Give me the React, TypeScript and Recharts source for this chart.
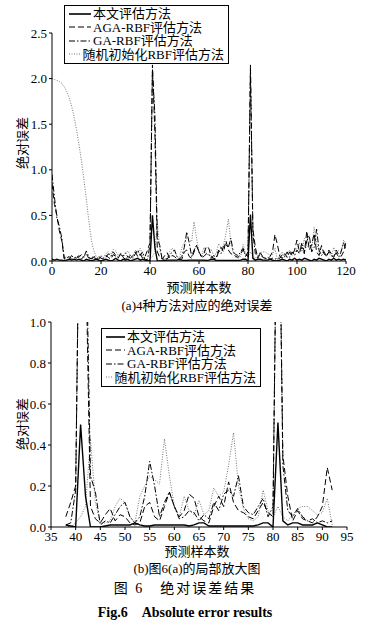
import React from 'react';
import { LineChart, Line, XAxis, YAxis } from 'recharts';

const FONT = '"Liberation Serif", "Noto Sans CJK SC", serif';

// sample numbers 0..120
const samples = Array.from({ length: 121 }, (_, i) => i);

// 本文评估方法
const ours = [
  0.02, 0.01, 0.02, 0.01, 0.01, 0.0, 0.01, 0.02, 0.01, 0.02,
  0.01, 0.02, 0.01, 0.0, 0.02, 0.01, 0.0, 0.01, 0.02, 0.01,
  0.0, 0.01, 0.02, 0.01, 0.0, 0.01, 0.03, 0.01, 0.0, 0.02,
  0.01, 0.02, 0.0, 0.01, 0.02, 0.03, 0.01, 0.02, 0.01, 0.005,
  0.0, 0.5, 0.15, 0.0, 0.0, 0.0, 0.005, 0.01, 0.01, 0.01,
  0.01, 0.01, 0.02, 0.01, 0.005, 0.005, 0.01, 0.01, 0.01, 0.01,
  0.01, 0.01, 0.01, 0.005, 0.01, 0.02, 0.02, 0.005, 0.005, 0.005,
  0.005, 0.005, 0.005, 0.005, 0.005, 0.005, 0.005, 0.01, 0.02, 0.02,
  0.0, 0.51, 0.03, 0.01, 0.02, 0.02, 0.01, 0.01, 0.01, 0.02,
  0.01, 0.0, 0.0, 0.01, 0.02, 0.01, 0.0, 0.02, 0.01, 0.03,
  0.01, 0.02, 0.01, 0.03, 0.02, 0.01, 0.0, 0.02, 0.01, 0.03,
  0.02, 0.01, 0.0, 0.02, 0.01, 0.03, 0.01, 0.02, 0.01, 0.02,
  0.01,
];

// AGA-RBF评估方法
const aga = [
  0.85, 0.62, 0.5, 0.33, 0.22, 0.02, 0.03, 0.05, 0.02, 0.04,
  0.03, 0.06, 0.02, 0.05, 0.08, 0.03, 0.01, 0.04, 0.02, 0.05,
  0.03, 0.02, 0.06, 0.04, 0.02, 0.07, 0.05, 0.03, 0.08, 0.04,
  0.02, 0.05, 0.03, 0.06, 0.1, 0.05, 0.08, 0.03, 0.05, 0.12,
  0.2, 2.15, 1.4, 0.1, 0.04, 0.02, 0.06, 0.09, 0.03, 0.06,
  0.05, 0.02, 0.01, 0.02, 0.1, 0.12, 0.05, 0.03, 0.1, 0.17,
  0.1, 0.05, 0.08, 0.16, 0.14, 0.05, 0.03, 0.02, 0.1, 0.15,
  0.1, 0.22, 0.12, 0.08, 0.07, 0.05, 0.04, 0.08, 0.12, 0.07,
  0.05, 2.15, 0.35, 0.15, 0.03, 0.08, 0.04, 0.03, 0.02, 0.05,
  0.1, 0.29, 0.18, 0.05, 0.03, 0.08, 0.04, 0.1, 0.06, 0.12,
  0.23, 0.1, 0.15, 0.08, 0.33, 0.12, 0.18, 0.3, 0.1, 0.06,
  0.17, 0.08, 0.05, 0.1, 0.06, 0.04, 0.12, 0.07, 0.05, 0.1,
  0.2,
];

// GA-RBF评估方法
const ga = [
  0.95, 0.7, 0.47, 0.38, 0.25, 0.03, 0.05, 0.02, 0.06, 0.03,
  0.05, 0.04, 0.07, 0.04, 0.11, 0.05, 0.02, 0.06, 0.03, 0.02,
  0.05, 0.03, 0.04, 0.08, 0.05, 0.1, 0.06, 0.04, 0.07, 0.05,
  0.09, 0.04, 0.06, 0.03, 0.08, 0.12, 0.06, 0.1, 0.01, 0.02,
  0.18, 2.1, 1.6, 0.25, 0.17, 0.01, 0.03, 0.02, 0.06, 0.1,
  0.12, 0.05, 0.02, 0.05, 0.15, 0.32, 0.2, 0.05, 0.12, 0.17,
  0.1, 0.04, 0.05, 0.08, 0.07, 0.03, 0.06, 0.04, 0.12, 0.08,
  0.16, 0.18, 0.15, 0.25, 0.1, 0.07, 0.06, 0.1, 0.14, 0.05,
  0.1, 2.1, 0.3, 0.08, 0.05, 0.09, 0.05, 0.03, 0.04, 0.02,
  0.03, 0.02, 0.03, 0.03, 0.07, 0.05, 0.1, 0.04, 0.1, 0.06,
  0.12, 0.08, 0.2, 0.1, 0.22, 0.28, 0.1, 0.15, 0.35, 0.12,
  0.06, 0.1, 0.05, 0.12, 0.08, 0.05, 0.09, 0.04, 0.1, 0.2,
  0.12,
];

// 随机初始化RBF评估方法
const rnd = [
  2.0, 1.99, 1.98, 1.97, 1.95, 1.91, 1.86, 1.79, 1.7, 1.58,
  1.44, 1.28, 1.1, 0.9, 0.68, 0.45, 0.24, 0.12, 0.05, 0.03,
  0.06, 0.04, 0.08, 0.1, 0.07, 0.13, 0.11, 0.06, 0.09, 0.05,
  0.08, 0.11, 0.06, 0.04, 0.12, 0.08, 0.14, 0.06, 0.01, 0.0,
  0.02, 0.05, 0.1, 0.43, 0.12, 0.02, 0.02, 0.03, 0.1, 0.14,
  0.12, 0.05, 0.02, 0.15, 0.2, 0.25, 0.23, 0.21, 0.43, 0.25,
  0.1, 0.05, 0.15, 0.08, 0.06, 0.13, 0.06, 0.08, 0.19, 0.15,
  0.17, 0.3, 0.46, 0.2, 0.09, 0.04, 0.03, 0.05, 0.18, 0.08,
  0.05, 0.1, 0.05, 0.03, 0.06, 0.09, 0.1, 0.1, 0.08, 0.06,
  0.07, 0.14, 0.01, 0.06, 0.1, 0.04, 0.08, 0.12, 0.06, 0.09,
  0.14, 0.2, 0.1, 0.25, 0.15, 0.2, 0.12, 0.37, 0.2, 0.1,
  0.08, 0.12, 0.06, 0.09, 0.05, 0.15, 0.08, 0.12, 0.1, 0.23,
  0.18,
];

const xTicksA = [0, 20, 40, 60, 80, 100, 120];
const yTicksA = [0, 0.5, 1.0, 1.5, 2.0, 2.5];
const xTicksB = [35, 40, 45, 50, 55, 60, 65, 70, 75, 80, 85, 90, 95];
const yTicksB = [0, 0.1, 0.2, 0.3, 0.4, 0.5, 0.6, 0.7, 0.8, 0.9, 1.0];
const zoomRange = [38, 92];

const seriesNames = ['本文评估方法', 'AGA-RBF评估方法', 'GA-RBF评估方法', '随机初始化RBF评估方法'];

const rows = samples.map((x, i) => ({ x, ours: ours[i], aga: aga[i], ga: ga[i], rnd: rnd[i] }));
const zoomRows = rows.filter((r) => r.x >= zoomRange[0] && r.x <= zoomRange[1]);

const lineStyles = [
  { key: 'rnd', stroke: '#777', width: 1, dash: '1 1.5' },
  { key: 'ga', stroke: '#000', width: 1, dash: '6 2 1.5 2' },
  { key: 'aga', stroke: '#000', width: 1, dash: '6 3' },
  { key: 'ours', stroke: '#000', width: 1.4, dash: undefined },
];
const legendStyles = [lineStyles[3], lineStyles[2], lineStyles[1], lineStyles[0]];

const tickStyle = { fill: '#000', fontSize: 13, fontFamily: FONT };

function Txt({ x, y, children, size = 13, bold = false, rotate = false, spacing = 0 }: any) {
  return (
    <div
      style={{
        position: 'absolute',
        left: x,
        top: y,
        transform: `translate(-50%, -50%)${rotate ? ' rotate(-90deg)' : ''}`,
        whiteSpace: 'nowrap',
        fontSize: size,
        fontWeight: bold ? 'bold' : 'normal',
        letterSpacing: spacing,
        fontFamily: FONT,
        color: '#000',
        lineHeight: 1,
      }}
    >
      {children}
    </div>
  );
}

function LegendBox({ left, top, width, sample }: any) {
  return (
    <div
      style={{
        position: 'absolute',
        left,
        top,
        width,
        border: '1.3px solid #000',
        background: '#fff',
        padding: '1px 4px 2px 4px',
        fontFamily: FONT,
        fontSize: 13,
        lineHeight: '13.5px',
      }}
    >
      {legendStyles.map((s, i) => (
        <div key={s.key} style={{ display: 'flex', alignItems: 'center', whiteSpace: 'nowrap' }}>
          <svg width={sample} height={8} style={{ marginRight: 2 }}>
            <line x1={0} y1={4} x2={sample} y2={4} stroke={s.stroke} strokeWidth={s.width + 0.2} strokeDasharray={s.dash} />
          </svg>
          <span>{seriesNames[i]}</span>
        </div>
      ))}
    </div>
  );
}

function Series() {
  return lineStyles.map((s) => (
    <Line
      key={s.key}
      type="linear"
      dataKey={s.key}
      stroke={s.stroke}
      strokeWidth={s.width}
      strokeDasharray={s.dash}
      dot={false}
      activeDot={false}
      isAnimationActive={false}
    />
  ));
}

export default function App() {
  return (
    <div style={{ position: 'absolute', left: 0, top: 0, width: 377, height: 633, background: '#fff', overflow: 'hidden' }}>
      {/* (a) full range */}
      <div style={{ position: 'absolute', left: 0, top: 0 }}>
        <LineChart width={377} height={300} data={rows} margin={{ top: 33, right: 31, bottom: 19, left: 0 }}>
          <XAxis
            type="number"
            dataKey="x"
            domain={[0, 120]}
            ticks={xTicksA}
            tickSize={3}
            height={20}
            stroke="#000"
            tick={tickStyle}
            allowDataOverflow
          />
          <YAxis
            type="number"
            domain={[0, 2.5]}
            ticks={yTicksA}
            tickFormatter={(v: number) => v.toFixed(1)}
            tickSize={3}
            width={52}
            stroke="#000"
            tick={tickStyle}
            allowDataOverflow
          />
          {Series()}
        </LineChart>
      </div>
      <LegendBox left={64} top={5} width={155} sample={22} />
      <Txt x={22} y={143} rotate>绝对误差</Txt>
      <Txt x={199} y={287}>预测样本数</Txt>
      <Txt x={197} y={305}>(a)4种方法对应的绝对误差</Txt>

      {/* (b) zoomed */}
      <div style={{ position: 'absolute', left: 0, top: 310 }}>
        <LineChart width={377} height={240} data={zoomRows} margin={{ top: 12, right: 30, bottom: 3, left: 0 }}>
          <XAxis
            type="number"
            dataKey="x"
            domain={[35, 95]}
            ticks={xTicksB}
            tickSize={3}
            height={20}
            stroke="#000"
            tick={tickStyle}
            allowDataOverflow
          />
          <YAxis
            type="number"
            domain={[0, 1]}
            ticks={yTicksB}
            tickFormatter={(v: number) => v.toFixed(1)}
            tickSize={3}
            width={51}
            stroke="#000"
            tick={tickStyle}
            allowDataOverflow
          />
          {Series()}
        </LineChart>
      </div>
      <LegendBox left={101} top={328} width={150} sample={19} />
      <Txt x={22} y={424} rotate>绝对误差</Txt>
      <Txt x={197} y={551}>预测样本数</Txt>
      <Txt x={197} y={568}>(b)图6(a)的局部放大图</Txt>
      <Txt x={185} y={589} size={14} spacing={2}>图 6　绝对误差结果</Txt>
      <Txt x={185} y={613} size={14} bold>Fig.6　Absolute error results</Txt>
    </div>
  );
}
